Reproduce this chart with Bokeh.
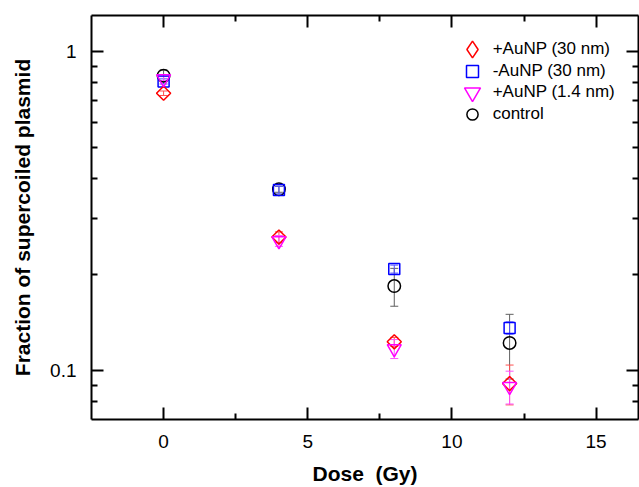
from bokeh.plotting import figure
from bokeh.models import (ColumnDataSource, Whisker, TeeHead, Legend, LegendItem,
                          FixedTicker, LinearAxis, LogAxis, Range1d, CustomJSTickFormatter)
from bokeh.embed import file_html
from bokeh.resources import INLINE
import math

# ---- data ----
doses = [0, 4, 8, 12]
au30 = [0.74, 0.262, 0.123, 0.091]          # +AuNP (30 nm)
au30_err = [0.012, 0.010, 0.004, 0.013]
noau30 = [0.806, 0.368, 0.208, 0.136]       # -AuNP (30 nm)
noau30_err = [0.015, 0.010, 0.006, 0.006]
au14 = [0.822, 0.255, 0.117, 0.089]         # +AuNP (1.4 nm)
au14_err = [0.012, 0.010, 0.008, 0.0105]
control = [0.84, 0.37, 0.184, 0.122]        # control
control_err = [0.035, 0.008, 0.025, 0.028]

x_ticks = [0, 5, 10, 15]
x_minor = [2.5, 7.5, 12.5]
y_ticks = [0.1, 1]
y_minor = [0.08, 0.09, 0.2, 0.3, 0.4, 0.5, 0.6, 0.7, 0.8, 0.9]

labels = ["+AuNP (30 nm)", "-AuNP (30 nm)", "+AuNP (1.4 nm)", "control"]

FONT = "Liberation Sans"
FRAME_L, FRAME_T, FRAME_B = 91, 15, 419

p = figure(width=639, height=487, output_backend="svg", toolbar_location=None,
           y_axis_type="log",
           x_range=Range1d(-2.5, 16.47), y_range=Range1d(0.0702, 1.297),
           min_border_left=FRAME_L, min_border_right=1, min_border_top=FRAME_T,
           min_border_bottom=487 - FRAME_B)
p.grid.visible = False
p.outline_line_color = None
p.background_fill_color = "white"
p.border_fill_color = "white"

xt = FixedTicker(ticks=x_ticks, minor_ticks=x_minor)
yt = FixedTicker(ticks=y_ticks, minor_ticks=y_minor)
yfmt = CustomJSTickFormatter(code="return String(Number(tick.toPrecision(3)));")

def style_axis(ax, show_labels=True):
    ax.axis_line_width = 2
    ax.axis_line_color = "black"
    ax.major_tick_in = 12
    ax.major_tick_out = 0
    ax.minor_tick_in = 6
    ax.minor_tick_out = 0
    ax.major_tick_line_width = 2
    ax.minor_tick_line_width = 2
    ax.major_tick_line_color = "black"
    ax.minor_tick_line_color = "black"
    ax.major_label_text_font = FONT
    if show_labels:
        ax.major_label_text_font_size = "19px"
        ax.major_label_text_color = "black"
    else:
        ax.major_label_text_font_size = "1px"
        ax.major_label_text_color = None
        ax.major_label_standoff = 0

xa = p.xaxis[0]
xa.ticker = xt
style_axis(xa)
xa.major_label_standoff = 15
xa.axis_label = "Dose\u00a0 (Gy)"
xa.axis_label_text_font = FONT
xa.axis_label_text_font_size = "21px"
xa.axis_label_text_font_style = "bold"
xa.axis_label_text_color = "black"
xa.axis_label_standoff = 11

ya = p.yaxis[0]
ya.ticker = yt
ya.formatter = yfmt
style_axis(ya)
ya.major_label_standoff = 15
ya.axis_label = "Fraction of supercoiled plasmid"
ya.axis_label_text_font = FONT
ya.axis_label_text_font_size = "21px"
ya.axis_label_text_font_style = "bold"
ya.axis_label_text_color = "black"
ya.axis_label_standoff = 13

top = LinearAxis(ticker=xt)
style_axis(top, show_labels=False)
p.add_layout(top, "above")
right = LogAxis(ticker=yt, formatter=yfmt)
style_axis(right, show_labels=False)
p.add_layout(right, "right")

series = [
    (au30, au30_err, "red", "#ff5050", "diamond"),
    (noau30, noau30_err, "blue", "#5050ff", "square"),
    (au14, au14_err, "magenta", "#ff50ff", "inverted_triangle"),
    (control, control_err, "black", "#606060", "circle"),
]

# error bars first
for vals, errs, col, ecol, mk in [series[3], series[1], series[0], series[2]]:
    src = ColumnDataSource(dict(x=doses,
                                upper=[v + e for v, e in zip(vals, errs)],
                                lower=[v - e for v, e in zip(vals, errs)]))
    w = Whisker(source=src, base="x", upper="upper", lower="lower",
                line_color=ecol, line_width=1,
                upper_head=TeeHead(size=8, line_color=ecol, line_width=1),
                lower_head=TeeHead(size=8, line_color=ecol, line_width=1))
    p.add_layout(w)

legend_renderers = {}
draw_order = [3, 1, 0, 2]
for i in draw_order:
    vals, errs, col, ecol, mk = series[i]
    src = ColumnDataSource(dict(x=doses, y=vals))
    if mk == "diamond":
        p.scatter("x", "y", source=src, marker="square", size=10, angle=math.pi / 4,
                  line_color=col, line_width=1.5, fill_color=None)
        # legend swatch (hidden renderer, true diamond marker)
        lr = p.scatter("x", "y", source=src, marker="diamond", size=12, line_color=col,
                       line_width=1.5, fill_color=None, visible=False)
        legend_renderers[i] = lr
    else:
        size = {"square": 11, "inverted_triangle": 14, "circle": 12.5}[mk]
        r = p.scatter("x", "y", source=src, marker=mk, size=size,
                      line_color=col, line_width=1.5, fill_color=None)
        legend_renderers[i] = r

# one legend per entry so that symbol size and row pitch can be set independently
row_y = [49.3, 70.7, 91.7, 114.3]      # screen rows of legend entries
glyph_box = [42, 30, 40, 28]
sym_x, text_x = 471.7, 492.7
for i in range(4):
    gb = glyph_box[i]
    lg = Legend(items=[LegendItem(label=labels[i], renderers=[legend_renderers[i]])],
                location=(sym_x - gb / 2 - FRAME_L, FRAME_B - (row_y[i] + gb / 2)),
                label_text_font=FONT, label_text_font_size="17px", label_text_color="black",
                border_line_color=None, background_fill_alpha=0,
                padding=0, margin=0, spacing=0,
                glyph_width=gb, glyph_height=gb, label_height=gb,
                label_standoff=max(0, int(round(text_x - (sym_x + gb / 2)))))
    p.add_layout(lg)

open("out.html", "w").write(file_html(p, INLINE))
